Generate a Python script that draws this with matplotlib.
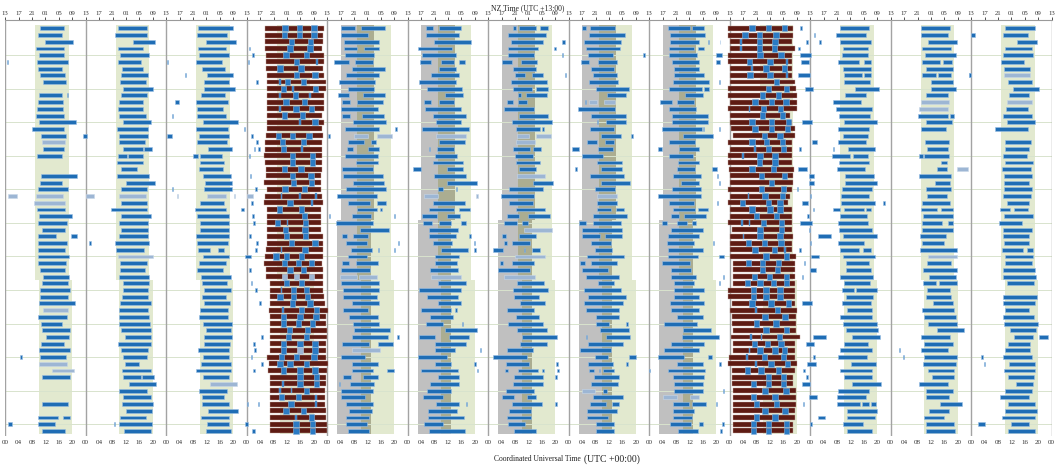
import matplotlib.pyplot as plt

plt.rcParams['font.family'] = ['Liberation Serif', 'DejaVu Serif']

# 13 blocks of 24 h, 61 rows (days) each; values are hours UTC inside a block
n_panels = 13
n_rows = 61

p1 = [[(10.4,17.6)], [(9.9,16.9)], [(11.9,20.1)], [(9.2,17.6)], [(10.1,17.6)],
      [(0.4,0.9),(9.4,18.8)], [(9.7,16.9)], [(10.4,17.8)], [(11.2,18.1)], [],
      [(10.1,16.8),(18.5,18.8)], [(9.7,17.1)], [(9.6,17.3)], [(9.1,17.6)], [(10.1,21.2)],
      [(8.1,17.6)], [(10.7,18.1)], [], [(11.4,17.6)], [(9.6,16.9)],
      [], [], [(10.7,21.5)], [(10.4,16.8)], [(9.9,18.6)],
      [], [], [(9.4,17.9)], [(10.2,19.9)], [(9.9,18.3)],
      [(10.9,17.9)], [(9.7,15.1),(19.6,21.5)], [(9.9,18.5)], [(9.9,17.7)], [(9.7,19.0)],
      [(9.7,18.1)], [(10.4,17.7)], [(11.4,19.1)], [(11.0,18.7)], [(10.5,19.3)],
      [(10.5,18.6)], [(10.0,20.7)], [], [(9.9,18.4)], [(10.7,16.9)],
      [(11.0,19.3)], [(12.2,19.1)], [(10.7,17.5)], [(10.2,19.3)], [(4.4,5.1),(10.5,18.1)],
      [], [], [(11.0,19.3)], [], [],
      [], [(10.9,18.8)], [], [(9.9,15.6),(17.2,19.4)], [(0.9,2.1),(9.9,14.7)],
      [(11.0,17.9)]]

p2 = [[(9.5,18.2)], [(8.7,18.2)], [(14.0,20.7)], [(9.7,17.0)], [(10.2,18.9)],
      [(9.5,16.4)], [(10.7,17.2)], [(10.5,18.5)], [(10.2,17.9)], [(11.2,20.2)],
      [(10.5,18.2)], [(10.0,17.2)], [(9.7,17.0)], [(9.8,18.0)], [(11.0,19.5)],
      [(9.2,18.7)], [(-0.7,0.5),(10.0,18.7)], [(10.0,17.8)], [(11.2,17.0),(17.5,19.7)], [(9.7,12.2),(12.7,17.0)],
      [(9.2,17.0)], [(10.4,15.4)], [(9.2,19.0)], [(12.0,20.7)], [(10.5,18.4)],
      [], [(10.5,18.2)], [(7.5,18.2)], [(10.5,19.5)], [(10.0,18.7)],
      [(10.5,18.7)], [(10.0,18.5)], [(1.0,1.5),(8.7,18.9)], [(8.9,17.4)], [],
      [(10.2,18.2)], [(10.2,17.7)], [(9.8,18.9)], [(11.2,18.9)], [(11.0,18.5)],
      [(10.7,18.7)], [(10.2,19.5)], [(10.0,18.7)], [(10.0,18.9)], [(9.8,19.2)],
      [(10.5,19.4)], [(11.7,19.4)], [(9.5,19.5)], [(10.5,18.7)], [(11.2,18.4)],
      [(11.7,15.9)], [(10.7,19.5)], [(11.2,16.4),(16.9,20.4)], [(13.0,20.9)], [(9.8,18.2)],
      [(11.2,19.4)], [(10.9,20.0)], [(12.0,19.9)], [(10.2,18.0)], [(8.5,8.7),(10.0,19.7)],
      [(11.5,19.5)]]

p3 = [[(9.6,20.0)], [(9.1,18.0)], [(11.8,20.8)], [(9.6,17.7)], [(9.9,18.7)],
      [(0.2,0.5),(8.9,16.7)], [(10.8,17.4)], [(5.5,5.8),(12.3,19.8)], [(11.3,18.7)], [(11.3,20.5)],
      [(10.4,17.5)], [(2.6,3.9),(8.9,18.5)], [(9.3,17.0)], [(1.7,2.0),(9.1,17.7)], [(11.1,21.5)],
      [(8.9,18.3),(23.2,23.5)], [(0.3,1.6),(9.9,18.7)], [(9.1,18.2)], [(12.4,19.7)], [(8.1,9.4),(10.1,16.5)],
      [(10.1,17.2)], [(9.9,17.0)], [(10.9,19.2)], [(11.6,19.5)], [(1.7,2.0),(11.3,19.5)],
      [], [(10.1,17.2)], [(8.6,17.7),(22.2,23.3)], [(9.1,18.7)], [(10.1,18.7)],
      [(10.1,18.7)], [(8.8,18.7)], [(9.3,18.3)], [(9.4,13.1),(15.3,17.2)], [(10.9,18.7)],
      [(9.9,17.8)], [(9.3,17.0)], [(10.4,19.2)], [(10.8,18.0)], [(11.3,19.2)],
      [(10.6,17.8)], [(11.3,19.0)], [(10.1,18.5)], [(9.9,18.5)], [(10.9,19.5)],
      [(11.9,19.3)], [(11.3,19.5)], [(11.3,19.0)], [(9.4,18.8)], [(11.1,18.7)],
      [(10.3,19.2)], [(8.9,19.2)], [(11.1,18.7)], [], [(9.8,18.0)],
      [(10.6,17.2)], [(10.8,18.7)], [(12.4,21.3)], [(10.4,18.7)], [(12.1,18.7)],
      [(11.8,19.3)]]

# block 4: short blue episodes next to the long brown bars
p4 = [[], [], [], [(0.6,1.0)], [(1.5,2.1)],
      [(0.3,0.7)], [], [], [(2.7,3.3)], [],
      [], [], [], [], [],
      [], [(1.2,1.8)], [(2.9,3.5)], [(2.1,2.5),(3.5,3.9)], [(0.6,1.0)],
      [], [], [(1.0,1.4)], [], [(2.5,3.1)],
      [], [(1.2,1.8)], [], [(1.5,2.1)], [(1.9,2.5)],
      [], [(0.8,1.2)], [(2.9,3.5)], [(2.5,3.1)], [(-0.4,1.4)],
      [], [(0.8,1.2)], [], [(1.3,1.7)], [(2.4,3.2)],
      [], [(3.6,4.4)], [], [], [],
      [], [(4.2,4.8)], [(2.0,2.4)], [(2.3,2.7)], [(1.3,1.7)],
      [(4.2,4.8)], [(2.0,2.4)], [], [], [],
      [], [(0.0,0.4),(3.3,3.7)], [], [], [(-0.6,0.4)],
      [(1.6,2.4)]]

p5 = [[(4.0,8.3),(10.0,17.2)], [(4.0,12.3)], [(5.0,15.5)], [(5.0,9.0),(11.0,15.5)], [(5.3,14.0)],
      [(2.0,6.5),(8.3,13.8)], [(7.3,17.2)], [(5.6,15.5)], [(3.5,14.3)], [(6.3,14.0)],
      [(3.3,6.5),(10.8,17.1)], [(4.3,6.8),(8.8,16.5)], [(4.1,15.0)], [(4.5,6.8),(10.5,16.9)], [(7.6,17.4)],
      [(5.3,15.5),(20.2,20.8)], [(0.2,0.9)], [(6.3,11.0),(13.1,14.6)], [(5.8,7.8),(12.3,15.5)], [(5.3,15.2)],
      [(8.5,15.0)], [(4.3,13.8)], [(4.8,16.5)], [(7.6,16.9)], [(5.6,17.4)],
      [(2.8,14.8)], [(6.3,12.8),(14.8,17.4)], [(8.8,14.8),(15.8,16.2)], [(0.4,0.8),(7.3,13.1),(19.8,20.2)], [(2.6,13.6)],
      [(9.8,18.4)], [(4.3,6.0),(7.8,12.1)], [(5.6,11.8),(21.0,21.4)], [(7.1,13.3),(15.1,15.3),(19.8,20.2)], [(6.3,12.0)],
      [(4.3,6.6),(8.6,15.2)], [(4.1,12.8)], [], [(4.1,15.5)], [(4.6,15.5)],
      [(4.6,14.8)], [(7.5,15.4)], [(4.8,12.3)], [(6.5,15.0)], [(7.6,15.5)],
      [(8.1,18.6)], [(7.5,18.0),(20.9,21.5)], [(4.3,12.6),(15.2,19.7)], [], [(4.1,11.3)],
      [(7.5,15.2)], [(7.5,13.8),(17.7,20.0)], [(4.8,7.1),(10.8,15.0)], [(3.4,3.8),(6.8,14.0)], [(4.1,13.6)],
      [(4.0,11.3)], [(5.6,13.8)], [(6.6,13.5)], [(5.6,12.6)], [(5.6,11.8)],
      [(6.1,12.6)]]

p6 = [[(5.5,7.4),(9.4,15.8)], [(5.4,15.4)], [(7.9,18.9)], [(3.2,13.3)], [(4.2,14.4)],
      [(3.7,7.0),(9.9,13.9),(15.4,17.1)], [(9.3,14.4)], [(7.0,15.3)], [(3.4,14.3)], [(5.7,16.1)],
      [(11.1,16.4)], [(5.0,7.0),(9.3,13.8)], [(5.2,15.9)], [(7.4,17.4)], [(8.5,15.8)],
      [(4.2,18.3)], [], [(9.3,17.1)], [(6.3,6.7),(8.6,13.8)], [(8.2,14.6)],
      [(7.5,16.4)], [(1.7,3.9),(11.6,16.4)], [(7.7,17.4)], [(11.6,20.8)], [(9.0,10.4),(14.4,14.8)],
      [], [(7.4,17.1)], [(6.4,13.9),(15.3,18.6)], [(4.4,8.6),(11.8,15.6)], [(4.5,7.2),(9.3,12.9),(15.9,17.3)],
      [(6.4,14.9)], [(6.4,14.4),(18.4,18.8)], [(7.4,13.1),(19.7,20.1)], [(9.8,18.1),(19.9,20.3)], [(8.2,15.3)],
      [(8.2,14.6)], [(6.7,15.1)], [], [(9.0,17.3)], [(3.5,15.9)],
      [(5.9,15.1)], [(9.0,15.8)], [(3.9,12.8),(14.2,14.6)], [(6.5,13.6)], [(5.5,10.4),(16.1,16.5)],
      [(11.1,20.8)], [(3.5,8.2),(12.3,18.4)], [(8.2,17.3)], [(8.2,14.1),(21.6,22.0)], [(3.0,11.8)],
      [(8.2,12.9),(19.9,20.3)], [(3.9,15.1),(20.6,21.0)], [(9.0,15.4)], [(6.5,15.4)], [(5.7,12.9)],
      [(4.7,10.4)], [(8.5,15.3),(17.4,17.8)], [(6.2,14.8)], [(6.0,16.9)], [(4.9,10.4)],
      [(6.4,17.1)]]

p7 = [[(7.3,8.3),(9.3,14.3),(15.3,17.7)], [(6.0,17.2)], [(6.8,16.2),(21.9,22.9)], [(6.0,14.7),(19.7,20.1)], [(6.0,13.7),(22.0,22.4)],
      [(4.0,7.2),(9.8,14.5)], [(7.3,14.3)], [(8.0,11.0),(13.0,16.2),(22.9,23.3)], [(6.7,17.4)], [(7.5,13.0),(14.3,17.7)],
      [(9.0,9.8),(11.2,17.4)], [(5.7,7.5),(9.0,11.5)], [(4.8,13.8)], [(9.3,17.7)], [(7.2,18.9)],
      [(8.3,15.5),(16.1,16.5)], [], [], [(7.3,12.5),(13.5,15.8)], [(8.0,13.5)],
      [(8.3,15.3)], [(9.3,14.3)], [], [(13.5,19.2)], [(6.3,16.2)],
      [(3.8,13.8)], [(6.3,13.5)], [(8.3,16.9)], [(5.5,9.3),(11.8,18.4)], [(4.8,8.5),(10.0,12.0)],
      [], [(4.0,5.2),(9.3,14.3)], [(4.7,5.5),(7.2,12.5)], [(1.5,4.5),(10.6,11.0),(13.2,15.5)], [],
      [(3.5,4.5),(7.2,13.8)], [(3.0,12.5)], [], [(8.7,16.7)], [(7.3,17.7)],
      [(7.7,15.0)], [(9.5,16.9)], [(5.5,13.7)], [(8.3,15.0)], [(5.8,16.2)],
      [(8.7,17.4)], [(10.2,20.6)], [(9.5,17.4)], [(5.5,13.5)], [(1.5,11.7)],
      [(5.3,12.2),(20.1,20.7)], [(5.0,6.0),(8.8,14.7),(16.1,16.5),(20.6,21.2)], [(7.8,16.4),(19.9,20.5)], [(7.3,16.4)], [(5.2,13.8)],
      [(4.2,7.8),(11.7,14.2)], [(7.2,15.9),(19.9,20.5)], [(6.2,12.9)], [(5.7,12.8)], [(6.0,11.0)],
      [(7.8,14.3)]]

p8 = [[(4.1,5.2),(6.4,13.8)], [(6.2,16.8)], [(4.6,15.5)], [(5.1,15.3)], [(5.9,13.1),(22.3,22.6)],
      [(3.6,6.2),(8.8,14.5)], [(6.6,13.6)], [(7.1,14.5)], [(6.0,14.8)], [(8.2,18.0)],
      [(11.5,17.0)], [(5.0,5.3)], [(2.9,13.8)], [(6.6,17.1)], [(8.3,8.7),(11.0,17.1)],
      [(6.4,13.5)], [(9.5,15.5),(18.7,19.3)], [(5.4,8.5),(10.8,13.6)], [(1.1,3.2),(8.8,13.3)], [(3.9,10.1)],
      [(8.3,15.8)], [(2.0,2.5),(9.5,16.0)], [(6.4,16.5)], [(9.5,18.3)], [(7.7,13.8)],
      [], [(8.3,14.3)], [(8.3,12.5),(14.1,16.5)], [(7.3,17.3)], [(3.1,5.2),(7.3,15.5)],
      [(3.9,15.8)], [(3.9,9.3),(10.8,15.8)], [(6.7,12.5)], [(7.7,13.0)], [(5.4,16.5)],
      [(3.4,4.8),(6.7,14.3)], [(4.1,11.6)], [(5.1,15.1)], [(8.6,13.6)], [(4.6,15.5)],
      [(5.9,17.0)], [(4.6,16.3)], [(5.1,15.1)], [(8.0,15.1)], [(8.1,12.1),(17.2,17.8)],
      [(9.4,18.0)], [(5.2,5.6),(11.0,18.3)], [(5.7,16.1)], [(3.4,12.5)], [(7.9,11.6),(18.0,20.1)],
      [(5.9,13.1),(17.2,17.8)], [(6.2,7.6),(9.1,9.4),(10.3,13.6),(23.8,24.3)], [(7.6,15.1)], [(6.6,14.8)], [(10.1,11.5)],
      [(7.1,16.3)], [(6.4,11.0),(13.0,15.1)], [(5.4,14.5)], [(5.6,11.8)], [(8.0,13.5)],
      [(8.1,13.5)]]

p9 = [[(5.7,12.2),(12.9,16.4)], [(6.2,16.7)], [(6.2,14.7),(17.4,17.8),(21.0,21.2)], [(6.0,13.5),(14.5,16.4)], [(6.0,14.2),(19.8,21.6)],
      [(6.9,14.9),(19.8,21.1)], [(7.4,14.9)], [(7.5,16.3)], [(7.0,17.9),(20.7,21.1)], [(6.0,15.6),(16.2,17.7)],
      [(10.7,15.9)], [(3.2,6.7),(8.2,13.4)], [(5.9,13.9)], [(6.7,17.5)], [(6.7,17.4)],
      [(3.9,15.6),(16.0,16.4),(20.7,21.1)], [(10.2,19.1)], [(5.9,13.7)], [(2.5,3.7),(8.9,14.9)], [(5.9,13.2)],
      [(8.7,14.7)], [(8.4,13.7),(18.8,20.1)], [(7.0,15.5),(20.1,20.5)], [(9.5,14.8),(20.7,21.1)], [(6.9,15.4)],
      [(2.7,15.3)], [(5.9,13.4),(20.2,20.6)], [(7.0,13.7),(14.5,17.5)], [(6.4,9.0),(10.4,16.9)], [(3.7,5.4),(8.2,11.4),(12.7,13.9)],
      [(6.4,15.9)], [(5.5,14.9)], [(5.2,13.4),(18.9,19.3)], [(5.5,15.9)], [(5.5,14.5),(20.9,22.4)],
      [(3.7,12.2)], [(6.5,12.5)], [(6.5,13.9),(21.9,22.3)], [(7.4,13.4),(20.7,21.1)], [(7.5,16.3)],
      [(7.4,14.9)], [(6.2,16.3)], [(6.5,14.7)], [(8.2,16.1)], [(4.4,14.4)],
      [(10.2,18.4)], [(9.9,20.9)], [(6.4,16.4)], [(4.5,14.8)], [(2.7,10.5),(17.5,18.8)],
      [(8.2,15.9),(20.9,21.3)], [(5.7,16.7)], [(7.0,16.3)], [(7.4,15.9)], [(7.4,15.9),(21.9,22.3)],
      [], [(7.2,11.9),(12.9,16.9),(19.9,20.3)], [(7.2,13.5)], [(7.0,12.7)], [(6.2,12.5),(14.7,15.9),(21.8,22.4)],
      [(8.7,14.5),(21.2,21.6)]]

# block 10: blue episodes after the brown bars (may run past 24 h)
p10 = [[(21.0,21.6)], [(25.0,25.4)], [(22.8,23.2),(26.7,27.1)], [(20.5,20.9)], [(21.0,24.2)],
       [(21.3,23.5)], [], [(20.5,23.9)], [], [(22.5,24.7)],
       [], [], [], [], [(21.5,24.6)],
       [], [], [(24.5,26.1)], [(20.8,21.2),(30.7,31.1)], [],
       [], [(20.5,23.0)], [(23.5,25.2)], [(23.5,25.2)], [(20.1,20.5)],
       [(23.8,24.2)], [(21.7,23.3)], [(24.7,25.1)], [(23.1,23.5)], [(21.0,24.4)],
       [(23.5,23.9)], [(26.4,30.2)], [(23.8,24.2)], [(20.8,21.2)], [(24.2,26.7)],
       [(22.1,22.5)], [(24.0,25.6)], [(21.6,22.0)], [], [],
       [], [(21.7,24.6)], [], [], [],
       [], [(24.7,28.7)], [(22.7,25.2)], [], [(24.9,25.3)],
       [(23.0,25.7)], [(22.0,22.4)], [(22.8,23.2)], [(21.5,24.0)], [],
       [(23.7,26.1)], [(21.8,22.2)], [], [(26.4,28.4)], [(24.0,24.4)],
       []]

p11 = [[(8.9,17.5)], [(7.7,16.5)], [(8.9,18.1)], [(9.9,17.3)], [(9.6,17.1)],
       [(8.4,14.6),(16.1,18.0)], [(9.7,18.1)], [(10.2,15.4),(16.1,18.0)], [(10.2,17.8)], [(13.4,20.5)],
       [(10.4,16.5)], [(6.9,15.1)], [(7.6,18.3)], [(8.7,17.8)], [(10.1,20.0)],
       [(8.2,17.6)], [(9.9,17.3)], [(8.2,16.7)], [(11.2,19.2)], [(6.4,11.9),(12.7,17.1)],
       [(8.7,17.5)], [(7.9,16.3)], [(10.4,19.0)], [(10.4,19.8)], [(9.4,18.3)],
       [(9.1,17.5)], [(9.2,19.3),(21.8,22.2)], [(6.9,8.9),(10.2,16.1),(16.6,18.0)], [(8.9,16.8)], [(8.4,17.1)],
       [(8.6,18.3)], [(9.9,19.8)], [(8.4,16.0)], [(8.9,14.6),(15.8,18.0)], [(9.9,19.3)],
       [(10.6,17.5)], [(10.7,18.1)], [(8.9,18.8)], [(10.1,17.8)], [(9.4,13.1),(13.6,19.8)],
       [(10.7,18.6)], [(9.4,18.1)], [(11.1,18.3)], [(8.9,18.5)], [(9.7,20.0)],
       [(10.6,20.3)], [(12.6,20.8)], [(10.1,17.3)], [(8.9,18.3)], [(8.4,17.0)],
       [(12.1,19.5)], [(8.9,18.3)], [(10.1,18.3)], [(12.4,21.0)], [(8.2,17.6)],
       [(8.1,16.5)], [(8.1,14.8),(15.5,17.5),(18.0,19.5)], [(10.9,20.0)], [(10.9,19.3)], [(9.9,15.6)],
       [(10.9,18.3)]]

p12 = [[(9.0,17.7)], [(8.9,17.0)], [(11.2,19.9)], [(9.4,18.0)], [(10.2,19.4)],
       [(9.2,14.7),(15.5,18.2)], [(10.4,18.7)], [(9.4,13.5),(14.2,18.0),(23.2,23.6)], [(11.9,18.5)], [(11.9,19.4)],
       [(10.5,17.0)], [], [], [(8.1,17.2),(17.7,19.0)], [(10.6,18.2)],
       [(8.9,16.4)], [], [(10.2,17.5)], [(10.9,17.0)], [(8.4,9.7),(10.0,17.5)],
       [(14.9,16.9)], [(13.9,16.9)], [(8.5,17.9)], [(13.2,17.7)], [(10.4,18.0)],
       [(10.9,16.7)], [(9.4,17.7)], [(9.0,13.9),(15.0,18.7)], [(9.7,18.5)], [(9.2,15.2),(17.0,18.5)],
       [(9.2,18.7)], [(8.7,16.4)], [(9.4,15.9)], [(8.7,19.7)], [],
       [(10.9,18.0)], [(9.7,19.7)], [(11.5,19.4)], [(9.5,13.5),(14.4,19.7)], [(10.9,17.7)],
       [(10.5,17.9)], [(12.7,18.5)], [(9.2,19.0)], [(9.9,19.5)], [(11.0,19.7)],
       [(13.9,22.0)], [(9.0,17.7)], [(10.0,18.5)], [(2.4,2.8),(9.0,17.2)], [(3.8,4.1),(9.9,19.7)],
       [(9.7,19.4)], [(11.2,19.0)], [(12.2,18.9)], [(8.5,17.2)], [(10.6,18.7)],
       [(10.5,17.4)], [(14.7,21.4)], [(11.4,17.5)], [(9.9,15.9)], [(10.6,19.0)],
       [(10.6,19.2)]]

p13 = [[(10.1,19.0)], [(0.0,1.1),(9.4,16.8)], [(13.6,19.5)], [(10.1,18.0)], [(9.4,18.3)],
       [(8.9,15.6)], [(9.9,17.6)], [(-0.8,0.0)], [(10.9,18.1)], [(12.4,20.1)],
       [(11.4,17.1)], [], [(10.4,16.8)], [(9.6,18.1)], [(10.7,19.1)],
       [(7.2,16.8)], [], [(10.2,17.8)], [(10.2,17.1)], [(9.4,16.5)],
       [(10.1,18.5)], [(9.2,17.8)], [(9.9,18.0)], [(9.9,17.3)], [(9.7,18.0)],
       [(9.6,17.8)], [(10.7,17.3)], [(8.6,11.6),(12.9,17.0)], [(9.7,18.3)], [(8.4,15.1)],
       [(9.4,18.0)], [(9.6,17.3)], [(9.9,17.3)], [(9.2,15.4),(16.5,18.3)], [(10.1,18.3)],
       [(10.2,18.0)], [(9.4,19.0)], [(9.4,19.3)], [(10.7,18.6)], [],
       [(9.4,19.6)], [(9.6,19.1)], [(10.2,17.1)], [(9.4,18.8)], [(9.9,19.8)],
       [(11.6,19.3)], [(12.7,18.3),(20.1,22.8)], [(10.9,17.5)], [(10.2,17.5)], [(3.0,3.4),(9.4,18.0)],
       [(3.7,4.1),(11.2,19.0)], [(9.9,19.0)], [(11.1,18.6)], [(13.4,18.5)], [(10.1,18.0)],
       [(8.6,17.3)], [(10.9,19.0)], [(10.2,19.5)], [(9.1,19.0)], [(2.1,4.1),(11.9,17.1)],
       [(10.9,19.0)]]

sleep = [p1, p2, p3, p4, p5, p6, p7, p8, p9, p10, p11, p12, p13]

# pale (uncertain) episodes: (block, row, start, end)
pale = [(0,17,11.1,17.8), (0,25,0.9,3.4), (0,25,9.1,17.3), (0,26,8.6,17.9), (0,42,11.4,18.6),
        (0,50,10.0,18.4), (0,51,14.0,20.4),
        (1,25,0.1,2.5), (1,25,10.0,18.0), (1,34,9.5,20.2),
        (2,25,3.3,3.6), (2,25,12.1,17.7), (2,25,20.2,20.5), (2,53,13.1,21.0),
        (3,25,0.2,1.8),
        (4,16,8.0,12.3), (4,16,14.8,19.4), (4,37,3.8,8.8), (4,37,9.6,14.8), (4,48,7.5,15.8),
        (5,16,8.5,17.4), (5,25,5.0,9.0), (5,25,20.4,20.9), (5,37,6.9,15.8),
        (6,16,8.5,12.2), (6,16,14.3,18.6), (6,17,8.2,14.1), (6,22,8.5,16.9), (6,30,10.8,18.9),
        (6,34,8.0,16.9), (6,37,4.7,14.1),
        (7,11,6.0,8.4), (7,11,10.5,13.8), (7,25,8.5,14.5), (7,54,4.1,7.9),
        (8,55,4.2,8.2), (8,55,12.2,14.9),
        (11,11,9.0,17.5), (11,12,8.5,17.0), (11,21,19.9,23.0), (11,34,11.2,19.7),
        (12,7,9.7,17.6), (12,11,10.6,18.0)]

# brown bars (blocks 4 and 10)
duty4_start = [5.5,5.5,5.5,5.5,5.8,5.8,5.8,6.0,6.0,6.0,6.0,6.0,6.0,6.0,6.0,6.0,5.8,5.5,5.5,5.2,
               5.5,5.8,5.8,5.2,6.0,5.5,5.2,6.2,6.2,6.0,6.0,6.0,6.0,5.8,5.5,5.2,5.7,5.7,7.0,6.8,
               6.8,7.0,6.5,6.8,6.8,7.0,6.8,6.8,6.8,6.0,6.5,6.3,6.8,6.8,6.8,7.0,6.8,7.0,6.8,6.8,6.8]
duty4_end = [22.9,22.7,22.7,22.4,23.1,22.9,22.6,22.9,23.6,23.6,22.9,22.9,23.1,22.4,23.1,22.4,22.6,22.4,22.4,22.4,
             22.4,22.4,22.2,22.2,22.2,22.4,22.6,22.1,22.2,22.2,22.2,22.6,22.6,22.6,22.6,22.4,22.6,22.6,22.7,22.7,
             22.9,23.4,24.3,23.6,23.6,23.8,24.0,23.6,23.6,23.6,24.3,23.8,23.6,23.6,23.4,23.4,23.4,23.6,23.6,23.8,23.8]
naps4 = [[11.4,15.7,20.1], [11.2,15.7,20.1], [13.4,19.1], [12.9,18.9], [11.7,17.9],
         [14.9], [9.9,16.2], [14.9,20.4], [12.2,16.9], [10.9,20.6],
         [14.6], [11.7,17.2], [14.7,19.4], [11.2,16.7], [20.4],
         [], [9.4,13.7,18.6], [10.7,16.9], [10.9], [13.7,19.7],
         [13.7,19.7], [11.2,16.2], [13.7,19.2], [13.9,19.4], [11.4,17.2],
         [], [12.9], [9.7,16.4], [17.2], [9.2,17.6],
         [11.6,17.4], [11.9,17.6], [13.4,20.4], [17.4], [8.7,11.9,16.4],
         [11.2,15.4,19.4], [12.9,16.9], [], [11.9,16.4], [13.9,17.9],
         [9.9,13.9,18.1], [13.7,18.9], [16.4,20.9], [10.9,15.9,20.7], [10.9,15.4,19.7],
         [12.7,18.2], [12.4,17.9], [10.9,15.9,20.4], [10.9,20.4], [10.4,14.9,20.1],
         [9.9,12.9,17.9], [10.9,15.9,20.4], [15.9,20.9], [15.9,20.9], [17.9],
         [10.4,15.4], [13.2], [11.7,16.9], [19.4], [14.7,19.7],
         [14.7,19.7]]
short4 = {5: [20.9], 8: [10.0], 9: [13.9], 10: [9.9,18.9], 12: [9.9], 14: [15.9], 18: [16.4],
          25: [10.4,15.9,20.7], 26: [19.4], 29: [12.2], 33: [10.4], 39: [10.4], 42: [10.9],
          53: [10.9], 54: [9.9,13.4], 55: [20.7], 56: [20.7], 58: [14.7]}
pale_naps4 = {37: [11.2,14.9,19.4], 48: [15.9]}

duty10_start = [-0.4,-0.4,0.1,0.1,-0.4,-0.4,0.1,0.1,0.1,-0.4,-0.6,0.1,-0.6,0.1,0.1,0.4,1.1,-0.4,0.1,-0.4,
                -0.4,-0.2,0.1,0.1,-0.4,0.1,-0.4,0.1,0.1,-0.6,0.6,0.1,0.1,0.1,0.1,1.1,1.1,1.1,1.1,-0.6,
                -0.6,0.6,0.1,0.6,0.6,1.1,0.4,1.1,1.1,-0.2,-0.4,0.6,0.6,0.6,1.1,1.1,1.1,1.1,1.1,1.1,1.1]
duty10_end = [19.0,19.0,18.5,19.5,18.5,18.5,18.5,18.5,19.5,19.7,20.0,20.0,20.0,18.0,18.7,19.5,19.5,18.5,18.5,18.5,
              18.5,19.3,19.0,19.0,18.5,18.0,17.5,18.5,18.5,18.5,18.7,19.0,18.5,18.5,19.7,19.5,19.5,19.5,19.5,19.5,
              19.5,19.5,20.0,19.7,19.7,19.7,21.0,19.5,19.5,19.5,20.0,19.5,19.0,19.0,19.7,19.7,19.7,19.5,19.5,19.0,19.0]
naps10 = [[6.6,11.5,16.3], [4.6,8.8,13.8], [8.8,13.5], [8.8,13.3], [9.0,15.3],
          [5.9,12.0], [10.8,16.3], [6.1,12.0], [14.0], [11.5,17.0],
          [9.8,14.5], [7.5,12.5,16.8], [10.0,15.2], [9.8,15.8], [6.6,12.5,17.5],
          [7.5,12.5,17.3], [10.3,15.0], [6.6,11.0,15.8], [11.5,16.0], [9.0,13.5],
          [8.8,13.5], [6.6,13.0], [9.5,16.3], [12.5], [9.5,16.0],
          [10.5,15.8], [3.9,11.5,15.0], [6.6,12.0,15.0], [8.0,14.0], [10.0,15.5],
          [9.0,15.5], [9.0,15.0], [5.6,10.3,15.3], [7.5,13.3], [10.8,17.0],
          [5.6,9.8,14.5], [9.8,14.3], [7.4,11.8,17.0], [5.4,9.0,13.0,17.0], [7.1,10.8,15.0],
          [7.1,10.8,15.0], [6.6,12.3,17.5], [14.3], [10.5,16.5], [7.9,13.8],
          [10.8,17.0], [14.8], [7.4,11.3,15.3], [9.0,13.5,16.3], [10.3,16.0],
          [12.3,17.3], [5.4,9.3,14.5], [11.5,16.0], [7.1,11.5,16.0], [10.5,16.8],
          [7.1,13.5], [8.0,14.0], [10.5,16.5], [8.0,13.5], [7.1,11.5,17.0],
          [7.1,11.5,17.0]]
short10 = {2: [3.4], 3: [3.4], 5: [17.0], 6: [6.6], 7: [17.0], 12: [5.9], 18: [7.5], 19: [3.9],
           25: [5.6], 29: [3.6,5.9], 31: [4.1], 33: [16.5], 42: [7.9], 46: [6.4,9.5], 48: [5.9],
           49: [5.1], 50: [7.9]}

duty_blocks = {3: (duty4_start, duty4_end, naps4, short4, pale_naps4),
               9: (duty10_start, duty10_end, naps10, short10, {})}

# shaded windows: (first row edge, last row edge, start hour, end hour)
night_bands = [(-0.5, 37.5, 9, 19), (37.5, 60.5, 10, 20)]
dark_bands = [(-0.5, 28.5, 4, 14), (28.5, 60.5, 3, 13)]
dark_blocks = [4, 5, 6, 7, 8]

bottom_ticks = list(range(0, 24 * n_panels + 1, 4))
bottom_labels = ['%02d' % (h % 24) for h in bottom_ticks]
top_labels = ['%02d' % ((h + 13) % 24) for h in bottom_ticks]

fig = plt.figure(figsize=(10.56, 4.65), dpi=100)
ax = fig.add_axes([5.2 / 1056, 1 - 435.5 / 465, 1046.5 / 1056, 415.5 / 465])
ax.set_xlim(0, 24 * n_panels)
ax.set_ylim(60.68, -1.24)

green = '#e2e9cf'
grey = '#c0c0c0'
olive = '#abad91'
blue = '#1f6db5'
bar_h = 0.58

for p in range(n_panels):
    off = 24 * p
    for y0, y1, h0, h1 in night_bands:
        ax.broken_barh([(off + h0, h1 - h0)], (y0, y1 - y0), facecolor=green, zorder=1)
    if p in dark_blocks:
        for y0, y1, h0, h1 in dark_bands:
            ax.broken_barh([(off + h0, h1 - h0)], (y0, y1 - y0), facecolor=grey, zorder=1.1)
            for g0, g1, k0, k1 in night_bands:
                lo, hi = max(y0, g0), min(y1, g1)
                a, b = max(h0, k0), min(h1, k1)
                if hi > lo and b > a:
                    ax.broken_barh([(off + a, b - a)], (lo, hi - lo), facecolor=olive, zorder=1.2)

for r in range(4, n_rows, 5):
    ax.axhline(r, color='#d8e3cd', lw=0.7, zorder=1.5)
for p in range(n_panels + 1):
    ax.axvline(24 * p, color='#a3a3a3', lw=1.0, zorder=2)

# brown duty bars with blue naps on top
for p, (ds, de, naps, short, pnaps) in duty_blocks.items():
    off = 24 * p
    for r in range(n_rows):
        ax.broken_barh([(off + ds[r], de[r] - ds[r])], (r - 0.37, 0.74),
                       facecolor='#5e1b13', edgecolor='#c2a49c', lw=0.3, zorder=3)
        for c in naps[r]:
            ax.broken_barh([(off + c - 0.8, 1.6)], (r - 0.46, 0.92),
                           facecolor='#2b7bc4', edgecolor='#86b4de', lw=0.4, zorder=4)
        for c in short.get(r, []):
            ax.broken_barh([(off + c - 0.25, 0.5)], (r - 0.42, 0.84),
                           facecolor='#2b7bc4', edgecolor='#86b4de', lw=0.3, zorder=4)
        for c in pnaps.get(r, []):
            ax.broken_barh([(off + c - 0.8, 1.6)], (r - 0.46, 0.92),
                           facecolor='#9db6d4', edgecolor='#c8d7e8', lw=0.4, zorder=4)

for p, rows in enumerate(sleep):
    off = 24 * p
    for r, segs in enumerate(rows):
        if segs:
            ax.broken_barh([(off + a, b - a) for a, b in segs], (r - bar_h / 2, bar_h),
                           facecolor=blue, edgecolor='#9cc0e4', lw=0.4, zorder=3)

for p, r, a, b in pale:
    ax.broken_barh([(24 * p + a, b - a)], (r - bar_h / 2, bar_h),
                   facecolor='#9db6d4', edgecolor='#c8d7e8', lw=0.4, zorder=3)

for s in ['left', 'right', 'bottom', 'top']:
    ax.spines[s].set_visible(False)
ax.set_yticks([])
ax.set_xticks(bottom_ticks)
ax.set_xticklabels(bottom_labels, fontsize=5.0)
ax.tick_params(axis='x', length=0, pad=3.5, colors='#333333')

top = ax.secondary_xaxis('top')
top.set_xticks(bottom_ticks)
top.set_xticklabels(top_labels, fontsize=4.9)
top.tick_params(axis='x', length=2, width=0.6, pad=1, colors='#333333')
top.spines['top'].set_color('#9a9a9a')
top.spines['top'].set_linewidth(0.8)

fig.text(0.5, 1 - 8 / 465, 'NZ Time (UTC +13:00)', ha='center', va='center',
         fontsize=5.5, color='#222222')
fig.text(581 / 1056, 1 - 459 / 465, 'Coordinated Universal Time', ha='right', va='center',
         fontsize=5.5, color='#222222')
fig.text(584 / 1056, 1 - 459 / 465, '(UTC +00:00)', ha='left', va='center',
         fontsize=7, color='#222222')

fig.savefig('out.png', dpi=100)
